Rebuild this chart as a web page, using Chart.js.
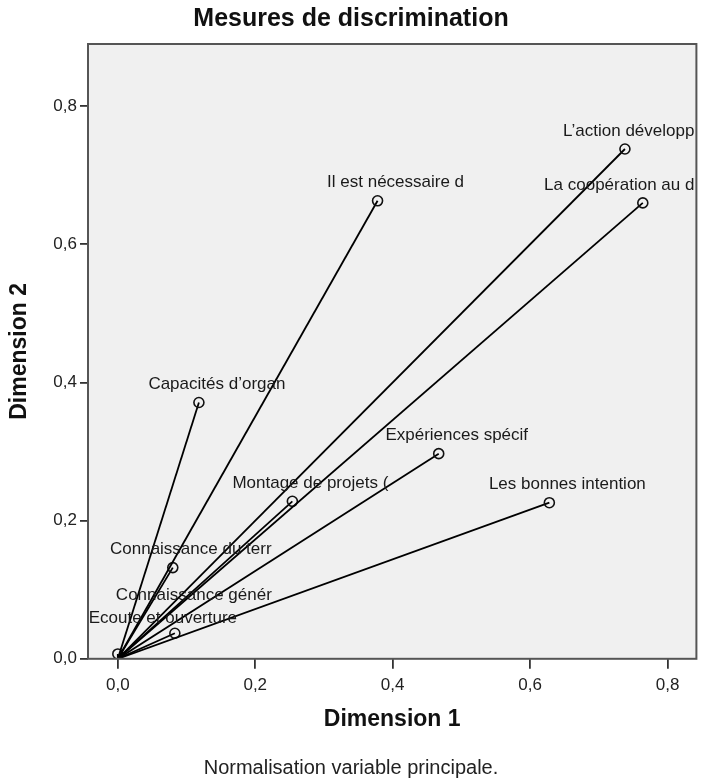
<!DOCTYPE html>
<html>
<head>
<meta charset="utf-8">
<script src="https://cdn.jsdelivr.net/npm/chart.js@4"></script>
<style>
  html, body { margin: 0; padding: 0; background: #ffffff; }
  #wrap { width: 703px; height: 783px; }
</style>
</head>
<body>
<div id="wrap"><canvas id="discrim"></canvas></div>
<script>
// variables (labels are truncated like in the SPSS output)
const variables = [
    "L\u2019action développ",
    "La coopération au d",
    "Il est nécessaire d",
    "Capacités d\u2019organ",
    "Expériences spécif",
    "Montage de projets (",
    "Les bonnes intention",
    "Connaissance du terr",
    "Connaissance génér",
    "Ecoute et ouverture"
];
const dimension1 = [0.738, 0.764, 0.378, 0.118, 0.467, 0.254, 0.628, 0.080, 0.000, 0.083];
const dimension2 = [0.738, 0.660, 0.663, 0.371, 0.297, 0.228, 0.226, 0.132, 0.007, 0.037];
const tickValues = [0.0, 0.2, 0.4, 0.6, 0.8];

// label placement (px, relative to the point) - default is up and a bit right
const labelShift = {
    "Connaissance génér": [76, -59],
    "Ecoute et ouverture": [-12, -15]
};

const fontFam = "'Liberation Sans', Arial, sans-serif";

const datasets = variables.map(function(name, i){
    return {
        label: name,
        data: [{x: 0, y: 0}, {x: dimension1[i], y: dimension2[i]}],
        showLine: true,
        borderColor: '#000000',
        borderWidth: 1.8,
        pointRadius: [0, 5],
        pointBorderColor: '#111111',
        pointBackgroundColor: 'rgba(0,0,0,0)',
        pointBorderWidth: 1.6,
        pointHoverRadius: [0, 5]
    };
});

// grey plot background + frame
const framePlugin = {
    id: 'frame',
    beforeDraw(chart){
        const a = chart.chartArea, ctx = chart.ctx;
        ctx.save();
        ctx.fillStyle = '#f0f0f0';
        ctx.fillRect(a.left, a.top, a.right - a.left, a.bottom - a.top);
        ctx.restore();
    },
    afterDraw(chart){
        const a = chart.chartArea, ctx = chart.ctx;
        ctx.save();
        ctx.strokeStyle = '#555555';
        ctx.lineWidth = 2;
        ctx.strokeRect(a.left, a.top, a.right - a.left, a.bottom - a.top);
        ctx.restore();
    }
};

// point labels
const pointLabels = {
    id: 'pointLabels',
    afterDatasetsDraw(chart){
        const a = chart.chartArea, ctx = chart.ctx;
        ctx.save();
        ctx.beginPath();
        ctx.rect(a.left, a.top, a.right - a.left, a.bottom - a.top);
        ctx.clip();
        ctx.font = '17px ' + fontFam;
        ctx.fillStyle = '#1a1a1a';
        ctx.textAlign = 'center';
        ctx.textBaseline = 'middle';
        chart.data.datasets.forEach(function(ds, i){
            const pt = chart.getDatasetMeta(i).data[1];
            const shift = labelShift[ds.label] || [18, -18];
            const w = ctx.measureText(ds.label).width;
            let cx = pt.x + shift[0];
            if (cx + w / 2 > a.right - 2) cx = a.right - 2 - w / 2;
            if (cx - w / 2 < a.left) cx = a.left + w / 2;
            ctx.fillText(ds.label, cx, pt.y + shift[1]);
        });
        ctx.restore();
    }
};

const ctx = document.getElementById('discrim');

const chart = new Chart(ctx, {
    type: 'scatter',
    data: { datasets: datasets },
    options: {
        responsive: true,
        maintainAspectRatio: false,
        animation: false,
        layout: { padding: { left: 0, right: 1, top: 0, bottom: 0 } },
        plugins: {
            legend: { display: false },
            tooltip: { enabled: false },
            title: {
                display: true,
                text: 'Mesures de discrimination',
                color: '#111111',
                font: { family: fontFam, size: 25, weight: 'bold' },
                padding: { top: 4, bottom: 10 }
            },
            subtitle: {
                display: true,
                position: 'bottom',
                text: 'Normalisation variable principale.',
                color: '#222222',
                font: { family: fontFam, size: 20 },
                padding: { top: 7, bottom: 3 }
            }
        },
        scales: {
            x: {
                type: 'linear',
                min: -0.0434,
                max: 0.842,
                afterFit: function(scale){ scale.height = 90.2; },
                afterBuildTicks: function(scale){
                    scale.ticks = tickValues.map(function(v){ return {value: v}; });
                },
                ticks: {
                    includeBounds: false,
                    color: '#222222',
                    font: { family: fontFam, size: 17 },
                    padding: 6,
                    callback: function(v){ return v.toFixed(1).replace('.', ','); }
                },
                grid: { drawOnChartArea: false, drawTicks: true, tickLength: 10, color: '#333333', lineWidth: 1.8 },
                border: { display: false },
                title: {
                    display: true,
                    text: 'Dimension 1',
                    color: '#111111',
                    font: { family: fontFam, size: 23, weight: 'bold' },
                    padding: { top: 0, bottom: 16 }
                }
            },
            y: {
                type: 'linear',
                min: 0,
                max: 0.89,
                afterFit: function(scale){ scale.width = 88; },
                afterBuildTicks: function(scale){
                    scale.ticks = tickValues.map(function(v){ return {value: v}; });
                },
                ticks: {
                    includeBounds: false,
                    color: '#222222',
                    font: { family: fontFam, size: 17 },
                    padding: 3,
                    callback: function(v){ return v.toFixed(1).replace('.', ','); }
                },
                grid: { drawOnChartArea: false, drawTicks: true, tickLength: 8, color: '#333333', lineWidth: 1.8 },
                border: { display: false },
                title: {
                    display: true,
                    text: 'Dimension 2',
                    color: '#111111',
                    font: { family: fontFam, size: 23, weight: 'bold' },
                    padding: { top: 6, bottom: 0 }
                }
            }
        }
    },
    plugins: [framePlugin, pointLabels]
});
</script>
</body>
</html>
